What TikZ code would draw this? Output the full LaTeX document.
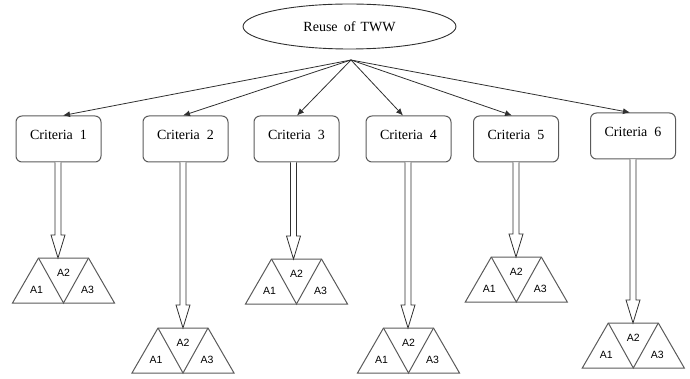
\documentclass[tikz,border=0pt]{standalone}
\usepackage{fontspec}
\setmainfont{Liberation Serif}
\newfontfamily\labsans{Liberation Sans}
\usetikzlibrary{shapes.geometric,arrows.meta,calc}
\definecolor{boxgray}{HTML}{5A5A5A}
\definecolor{linegray}{HTML}{303030}
\tikzset{
  root/.style={draw=linegray, line width=0.9pt, ellipse, minimum width=213pt, minimum height=45pt, inner sep=0pt, font=\fontsize{14}{16}\selectfont},
  crit/.style={draw=boxgray, line width=1pt, rounded corners=6pt, minimum width=85pt, minimum height=46pt, inner sep=0pt, text height=10pt, text depth=8pt, font=\fontsize{14}{16}\selectfont},
  conn/.style={draw=linegray, line width=0.8pt, -{Latex[length=7pt,width=6pt]}},
  harrow/.style={draw=linegray, line width=0.8pt, fill=white, line join=miter},
  tri/.style={draw=boxgray, line width=1pt, line join=miter},
  alab/.style={inner sep=0pt, font=\labsans\fontsize{10.5}{12}\selectfont}
}
\newcommand{\trigroup}[3]{%
  \coordinate (#1) at (#2,#3);
  \draw[tri] ($(#1)+(-25,0)$) -- ($(#1)+(25,0)$) -- ($(#1)+(51,45)$) -- ($(#1)+(-51,45)$) -- cycle;
  \draw[tri] ($(#1)+(-25,0)$) -- ($(#1)+(0,45)$) -- ($(#1)+(25,0)$);
  \node[alab] (#1a1) at ($(#1)+(-27,32)$) {A1};
  \node[alab] (#1a2) at ($(#1)+(0,15)$) {A2};
  \node[alab] (#1a3) at ($(#1)+(24,32)$) {A3};
}
\newcommand{\hollowarrow}[2]{%
  \draw[harrow] let \p1=(#1.south), \p2=(#2) in
    (\x2-3pt,\y1) -- (\x2-3pt,\y2+23pt) -- (\x2-7pt,\y2+23pt) -- (\x2,\y2)
    -- (\x2+7pt,\y2+23pt) -- (\x2+3pt,\y2+23pt) -- (\x2+3pt,\y1);
}
\begin{document}
\begin{tikzpicture}[x=1pt,y=-1pt]
\useasboundingbox (0,0) rectangle (690,379);
\node[root] (reuse) at (349.5,26.5) {Reuse\hspace{0.45em}of\hspace{0.35em}TWW};
\coordinate (hub) at (351,60);

\node[crit] (c1) at (58.5,139) {Criteria\hspace{0.5em}1};
\node[crit] (c2) at (185.5,139) {Criteria\hspace{0.5em}2};
\node[crit] (c3) at (296.5,139) {Criteria\hspace{0.5em}3};
\node[crit] (c4) at (408.5,139) {Criteria\hspace{0.5em}4};
\node[crit] (c5) at (516,139) {Criteria\hspace{0.5em}5};
\node[crit] (c6) at (633,136) {Criteria\hspace{0.5em}6};

\draw[conn] (hub) -- ([xshift=4.5pt]c1.north);
\draw[conn] (hub) -- ([xshift=-2.5pt]c2.north);
\draw[conn] (hub) -- ([xshift=0.5pt]c3.north);
\draw[conn] (hub) -- ([xshift=-5.5pt]c4.north);
\draw[conn] (hub) -- ([xshift=-4pt]c5.north);
\draw[conn] (hub) -- ([xshift=-3pt]c6.north);

\trigroup{g1}{63.5}{258}
\trigroup{g2}{183}{328}
\trigroup{g3}{296.5}{259}
\trigroup{g4}{408.5}{328}
\trigroup{g5}{516.3}{257}
\trigroup{g6}{633.3}{323}

\coordinate (t1) at (58,258);
\coordinate (t2) at (183,328);
\coordinate (t3) at (293.5,259);
\coordinate (t4) at (408,328);
\coordinate (t5) at (516,257);
\coordinate (t6) at (633,323);

\hollowarrow{c1}{t1}
\hollowarrow{c2}{t2}
\hollowarrow{c3}{t3}
\hollowarrow{c4}{t4}
\hollowarrow{c5}{t5}
\hollowarrow{c6}{t6}
\end{tikzpicture}
\end{document}
